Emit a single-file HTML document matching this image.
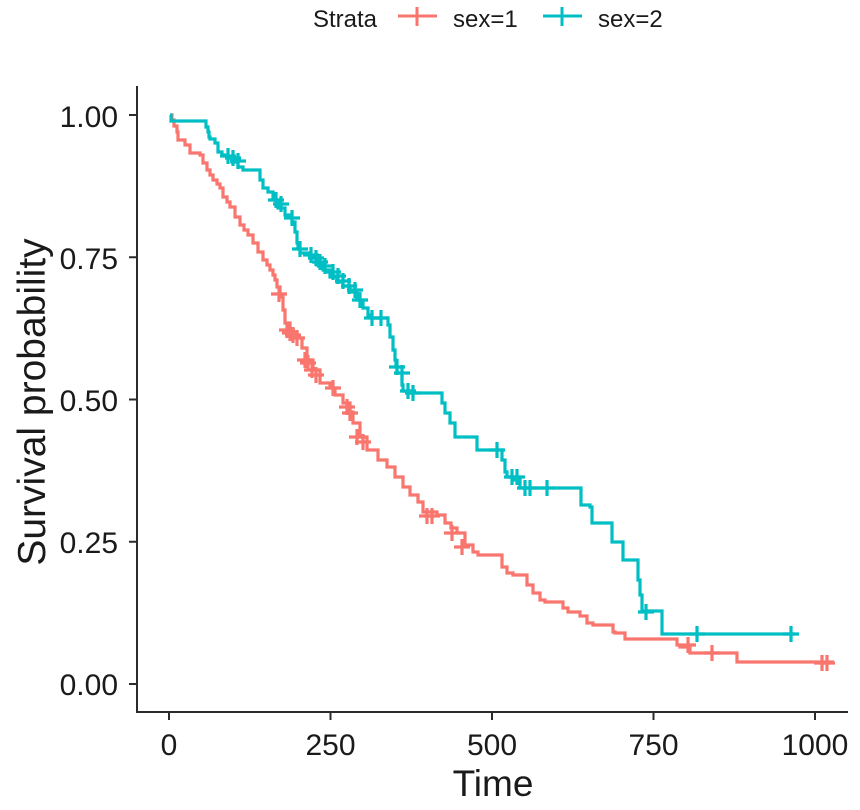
<!DOCTYPE html>
<html><head><meta charset="utf-8"><style>
html,body{margin:0;padding:0;background:#fff;}
svg{display:block;}
text{font-family:"Liberation Sans",Arial,sans-serif;fill:#1a1a1a;}
</style></head><body>
<svg width="860" height="810" viewBox="0 0 860 810" xmlns="http://www.w3.org/2000/svg">
<rect width="860" height="810" fill="#fff"/>
<!-- legend -->
<text x="313" y="27" font-size="24">Strata</text>
<g stroke="#F8766D" stroke-width="3"><line x1="398" y1="16" x2="437" y2="16"/><line x1="417" y1="7" x2="417" y2="26"/></g>
<text x="453" y="27" font-size="24">sex=1</text>
<g stroke="#00BFC4" stroke-width="3"><line x1="543" y1="16" x2="582" y2="16"/><line x1="562" y1="7" x2="562" y2="26"/></g>
<text x="598" y="27" font-size="24">sex=2</text>

<!-- axes -->
<g stroke="#2b2b2b" stroke-width="2" fill="none">
<line x1="137" y1="86" x2="137" y2="713"/>
<line x1="136" y1="712" x2="848" y2="712"/>
<line x1="129" y1="115" x2="137" y2="115"/>
<line x1="129" y1="257.25" x2="137" y2="257.25"/>
<line x1="129" y1="399.5" x2="137" y2="399.5"/>
<line x1="129" y1="541.75" x2="137" y2="541.75"/>
<line x1="129" y1="684" x2="137" y2="684"/>
<line x1="169" y1="712" x2="169" y2="720"/>
<line x1="330.5" y1="712" x2="330.5" y2="720"/>
<line x1="492" y1="712" x2="492" y2="720"/>
<line x1="653.5" y1="712" x2="653.5" y2="720"/>
<line x1="815" y1="712" x2="815" y2="720"/>
</g>
<g font-size="30" text-anchor="end">
<text x="118" y="127">1.00</text>
<text x="118" y="269">0.75</text>
<text x="118" y="411">0.50</text>
<text x="118" y="553">0.25</text>
<text x="118" y="695">0.00</text>
</g>
<g font-size="30" text-anchor="middle">
<text x="169" y="755">0</text>
<text x="330.5" y="755">250</text>
<text x="492" y="755">500</text>
<text x="653.5" y="755">750</text>
<text x="815" y="755">1000</text>
</g>
<text x="493" y="796" font-size="37" text-anchor="middle">Time</text>
<text transform="translate(45,402) rotate(-90)" font-size="39" text-anchor="middle">Survival probability</text>

<!-- red curve -->
<path fill="none" stroke="#F8766D" stroke-width="3.2" d="M170,115 H172 V120 H174 V126 H177 V132 H178 V140 H185 V145 H190 V153 H200 V155 H203 V163 H207 V170 H210 V175 H213 V180 H217 V184 H220 V188 H223 V197 H227 V202 H230 V207 H235 V217 H240 V225 H244 V230 H248 V235 H253 V243 H258 V252 H263 V260 H267 V265 H270 V270 H273 V275 H275 V280 H277 V287 H280 V294 H282 V297 H283 V310 H285 V323 H290 V332 H297 V338 H302 V348 H307 V360 H313 V370 H320 V383 H330 V388 H335 V395 H343 V403 H350 V412 H353 V423 H360 V437 H367 V450 H378 V460 H387 V467 H395 V477 H403 V487 H410 V495 H418 V502 H423 V512 H437 V515 H445 V523 H451 V528 H457 V533 H465 V545 H473 V552 H478 V555 H502 V567 H507 V573 H513 V575 H527 V585 H533 V593 H540 V600 H545 V602 H563 V608 H568 V612 H580 V616 H587 V623 H593 V625 H613 V632 H615 V633 H625 V639 H628 V639 H677 V645 H680 V647 H690 V653 H693 V653 H737 V662 H834"/>
<!-- teal curve -->
<path fill="none" stroke="#00BFC4" stroke-width="3.2" d="M170,115 H171 V121 H206 V127 H208 V132 H209 V137 H210 V139 H215 V143 H218 V152 H222 V155 H228 V158 H232 V162 H238 V167 H243 V170 H260 V180 H263 V188 H268 V192 H273 V200 H278 V208 H285 V215 H292 V222 H295 V232 H297 V243 H298 V248 H300 V253 H310 V258 H317 V265 H323 V270 H330 V277 H337 V282 H343 V286 H350 V292 H357 V300 H363 V308 H368 V315 H372 V318 H388 V325 H390 V337 H393 V350 H395 V360 H396 V367 H397 V373 H402 V385 H403 V391 H410 V393 H442 V403 H445 V413 H450 V423 H455 V437 H477 V450 H502 V460 H505 V472 H507 V477 H513 V480 H520 V488 H581 V505 H590 V507 H592 V523 H612 V542 H623 V560 H638 V580 H640 V595 H642 V611 H662 V634 H795"/>

<!-- red markers -->
<g stroke="#F8766D" stroke-width="3.2" fill="none">
<path d="M271,294h16M279,286v16"/>
<path d="M279,330h16M287,322v16"/>
<path d="M282,333h16M290,325v16"/>
<path d="M285,335h16M293,327v16"/>
<path d="M289,338h16M297,330v16"/>
<path d="M297,360h16M305,352v16"/>
<path d="M300,363h16M308,355v16"/>
<path d="M304,370h16M312,362v16"/>
<path d="M308,375h16M316,367v16"/>
<path d="M325,388h16M333,380v16"/>
<path d="M339,407h16M347,399v16"/>
<path d="M342,413h16M350,405v16"/>
<path d="M349,437h16M357,429v16"/>
<path d="M355,442h16M363,434v16"/>
<path d="M419,516h16M427,508v16"/>
<path d="M424,516h16M432,508v16"/>
<path d="M444,533h16M452,525v16"/>
<path d="M454,547h16M462,539v16"/>
<path d="M680,645h16M688,637v16"/>
<path d="M704,653h16M712,645v16"/>
<path d="M814,663h16M822,655v16"/>
<path d="M819,663h16M827,655v16"/>
</g>
<!-- teal markers -->
<g stroke="#00BFC4" stroke-width="3.2" fill="none">
<path d="M220,156h16M228,148v16"/>
<path d="M225,158h16M233,150v16"/>
<path d="M230,161h16M238,153v16"/>
<path d="M268,200h16M276,192v16"/>
<path d="M273,204h16M281,196v16"/>
<path d="M284,218h16M292,210v16"/>
<path d="M292,249h16M300,241v16"/>
<path d="M303,255h16M311,247v16"/>
<path d="M308,258h16M316,250v16"/>
<path d="M312,262h16M320,254v16"/>
<path d="M317,266h16M325,258v16"/>
<path d="M325,272h16M333,264v16"/>
<path d="M330,276h16M338,268v16"/>
<path d="M335,281h16M343,273v16"/>
<path d="M341,286h16M349,278v16"/>
<path d="M347,290h16M355,282v16"/>
<path d="M352,300h16M360,292v16"/>
<path d="M364,318h16M372,310v16"/>
<path d="M373,318h16M381,310v16"/>
<path d="M389,367h16M397,359v16"/>
<path d="M394,373h16M402,365v16"/>
<path d="M400,391h16M408,383v16"/>
<path d="M405,393h16M413,385v16"/>
<path d="M489,450h16M497,442v16"/>
<path d="M504,477h16M512,469v16"/>
<path d="M509,477h16M517,469v16"/>
<path d="M517,488h16M525,480v16"/>
<path d="M522,488h16M530,480v16"/>
<path d="M539,488h16M547,480v16"/>
<path d="M638,612h16M646,604v16"/>
<path d="M689,634h16M697,626v16"/>
<path d="M783,634h16M791,626v16"/>
</g>
</svg>
</body></html>
